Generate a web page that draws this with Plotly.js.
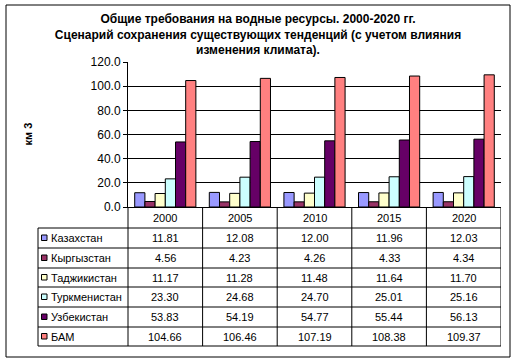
<!DOCTYPE html>
<html>
<head>
<meta charset="utf-8">
<script src="https://cdn.plot.ly/plotly-3.0.1.min.js"></script>
<style>html,body{margin:0;padding:0;background:#fff;}#chart{width:517px;height:363px;}</style>
</head>
<body>
<div id="chart"></div>
<script>
const years = ['2000', '2005', '2010', '2015', '2020'];
const seriesNames = ['Казахстан', 'Кыргызстан', 'Таджикистан', 'Туркменистан', 'Узбекистан', 'БАМ'];
const kazakhstan = [11.81, 12.08, 12.00, 11.96, 12.03];
const kyrgyzstan = [4.56, 4.23, 4.26, 4.33, 4.34];
const tajikistan = [11.17, 11.28, 11.48, 11.64, 11.70];
const turkmenistan = [23.30, 24.68, 24.70, 25.01, 25.16];
const uzbekistan = [53.83, 54.19, 54.77, 55.44, 56.13];
const bam = [104.66, 106.46, 107.19, 108.38, 109.37];
const seriesValues = [kazakhstan, kyrgyzstan, tajikistan, turkmenistan, uzbekistan, bam];
const seriesColors = ['#9999FF', '#993366', '#FFFFCC', '#CCFFFF', '#660066', '#FF8080'];
const yTicks = [0, 20, 40, 60, 80, 100, 120];

// geometry (pixels)
const W = 517, H = 363;
const PL = 128, PR = 501, PT = 62, PB = 207;
const px = v => (v - PL) / (PR - PL);
const py = v => (PB - v) / (PB - PT);
const FONT = 'Liberation Sans, Arial, sans-serif';

const traces = seriesNames.map((name, i) => ({
  type: 'bar', name: name, x: years, y: seriesValues[i],
  marker: {color: seriesColors[i], line: {color: '#000', width: 1}},
  hoverinfo: 'skip'
}));

const shapes = [];
const annotations = [];
const line = (xref, x0, x1, y0, y1) => shapes.push({type: 'line', xref: xref, yref: 'paper', x0: x0, x1: x1, y0: y0, y1: y1, line: {color: '#000', width: 1}, layer: 'above'});

// outer border
shapes.push({type: 'rect', xref: 'paper', yref: 'paper', x0: px(6), x1: px(510), y0: py(5), y1: py(357), line: {color: '#000', width: 1}, fillcolor: 'rgba(0,0,0,0)', layer: 'below'});

const rowLines = [228, 248, 268, 287, 307, 327, 346];
const headerMid = 217.5;
const tableBottom = rowLines[rowLines.length - 1];
// left axis extension and table left edge
line('paper', 0, 0, py(PB), py(tableBottom));
line('paper', px(38), px(38), py(rowLines[0]), py(tableBottom));
// column separators (category boundaries)
for (let k = 0; k < years.length; k++) {
  line('x', k + 0.5, k + 0.5, py(PB), py(tableBottom));
}
// horizontal lines
rowLines.forEach(r => line('paper', px(38), 1, py(r), py(r)));

// header labels
years.forEach((yr, k) => annotations.push({xref: 'x', yref: 'paper', x: k, y: py(headerMid), text: yr, showarrow: false, xanchor: 'center', yanchor: 'middle', font: {family: FONT, size: 11, color: '#000'}}));

// rows
seriesNames.forEach((name, i) => {
  const mid = (rowLines[i] + rowLines[i + 1]) / 2;
  shapes.push({type: 'rect', xref: 'paper', yref: 'paper', x0: px(41.5), x1: px(47), y0: py(mid - 3), y1: py(mid + 2.5), fillcolor: seriesColors[i], line: {color: '#000', width: 1}, layer: 'above'});
  annotations.push({xref: 'paper', yref: 'paper', x: px(49), y: py(mid), text: name, showarrow: false, xanchor: 'left', yanchor: 'middle', font: {family: FONT, size: 11, color: '#000'}});
  seriesValues[i].forEach((v, k) => annotations.push({xref: 'x', yref: 'paper', x: k, y: py(mid), text: v.toFixed(2), showarrow: false, xanchor: 'center', yanchor: 'middle', font: {family: FONT, size: 11, color: '#000'}}));
});

// y axis title
annotations.push({xref: 'paper', yref: 'paper', x: px(27), y: 0.5, text: 'км 3', textangle: -90, showarrow: false, xanchor: 'center', yanchor: 'middle', font: {family: FONT, size: 11, color: '#000', weight: 700}});

const layout = {
  width: W, height: H,
  margin: {l: PL, r: W - PR, t: PT, b: H - PB, pad: 0},
  paper_bgcolor: '#fff', plot_bgcolor: '#fff',
  showlegend: false,
  barmode: 'group', bargap: 0.18, bargroupgap: 0,
  title: {
    text: 'Общие требования на водные ресурсы. 2000-2020 гг.<br>Сценарий сохранения существующих тенденций (с учетом влияния<br>изменения климата).',
    x: 258 / W, xref: 'container', xanchor: 'center',
    y: 1 - 23 / H, yref: 'container', yanchor: 'top',
    font: {family: FONT, size: 12, color: '#000', weight: 700}
  },
  xaxis: {type: 'category', range: [-0.5, 4.5], showticklabels: false, ticks: '', showgrid: false, zeroline: false, showline: true, linecolor: '#000', linewidth: 1, fixedrange: true},
  yaxis: {range: [0, 120], tickvals: yTicks, ticktext: yTicks.map(v => v.toFixed(1)), ticks: 'outside', ticklen: 4, tickcolor: '#000', tickwidth: 1,
    showgrid: true, gridcolor: '#000', gridwidth: 1, zeroline: false, showline: true, linecolor: '#000', linewidth: 1,
    tickfont: {family: FONT, size: 12, color: '#000'}, fixedrange: true},
  shapes: shapes,
  annotations: annotations
};

Plotly.newPlot('chart', traces, layout, {staticPlot: true, displayModeBar: false});
</script>
</body>
</html>
